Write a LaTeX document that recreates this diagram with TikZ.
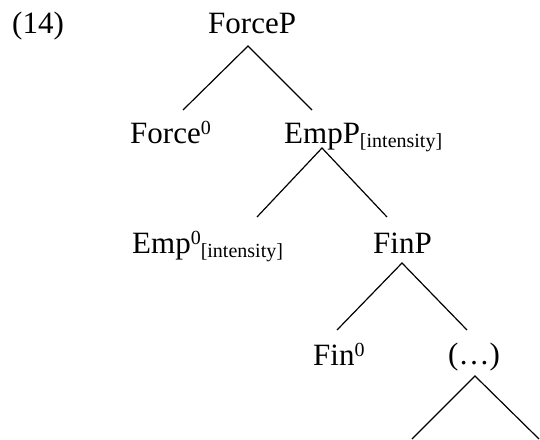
\documentclass[tikz,border=0pt]{standalone}
\usepackage{fontspec}
\setmainfont{Liberation Serif}
\usetikzlibrary{calc}
\newcommand\supz[1]{\raisebox{9pt}{\fontsize{20}{20}\selectfont #1}}
\newcommand\subx[1]{\raisebox{-4pt}{\fontsize{20}{20}\selectfont #1}}
\tikzset{
  lab/.style={anchor=base west, inner sep=0pt, font=\fontsize{31}{36}\selectfont},
  br/.style={line width=1.2pt}
}
\begin{document}
\begin{tikzpicture}[x=1pt,y=-1pt]
\useasboundingbox (0,0) rectangle (540,439);
\node[lab] (ex) at (12,33) {(14)};
\node[lab] (forceP) at (208,33) {ForceP};
\node[lab] (force0) at (130,143) {Force\supz{0}};
\node[lab] (empP) at (284,143) {EmpP\subx{[intensity]}};
\node[lab] (emp0) at (132,253) {Emp\supz{0}\subx{[intensity]}};
\node[lab] (finP) at (373,253) {FinP};
\node[lab] (fin0) at (313,365) {Fin\supz{0}};
\node[lab] (dots) at (448,364) {(…)};
\coordinate (botL) at (412,439);
\coordinate (botR) at (539,439);
\draw[br] ($(force0.base west)+(53,-33)$) -- ($(forceP.base west)+(40,13)$) -- ($(empP.base west)+(28,-33)$);
\draw[br] ($(emp0.base west)+(125,-36)$) -- ($(empP.base west)+(38,5)$) -- ($(finP.base west)+(14,-36)$);
\draw[br] ($(fin0.base west)+(24,-35)$) -- ($(finP.base west)+(29,10)$) -- ($(dots.base west)+(19,-34)$);
\draw[br] (botL) -- ($(dots.base west)+(27,12)$) -- (botR);
\end{tikzpicture}
\end{document}
